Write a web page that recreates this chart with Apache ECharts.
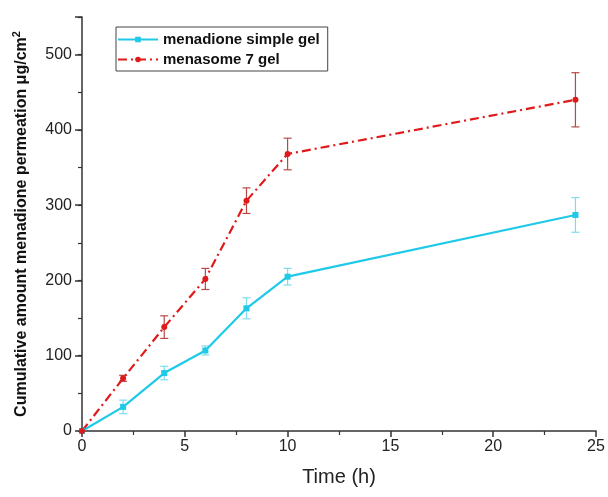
<!DOCTYPE html>
<html><head><meta charset="utf-8">
<script src="https://cdn.jsdelivr.net/npm/echarts@6/dist/echarts.min.js"></script>
<style>html,body{margin:0;padding:0;background:#fff}#c{width:608px;height:497px}</style>
</head><body><div id="c"></div>
<script>
const times = [0, 2, 4, 6, 8, 10, 24];
const simpleGel = [0, 32, 77, 107, 163, 205, 287];
const simpleGelErr = [0, 9, 9, 6, 14, 11, 23];
const menasomeGel = [0, 70, 138, 202, 306, 368, 440];
const menasomeGelErr = [0, 4, 15, 14, 17, 21, 36];
const seriesNames = ['menadione simple gel', 'menasome 7 gel'];

const cyan = '#1fc9e8', red = '#e01a1a';
const font = 'Liberation Sans, Arial, sans-serif';

function pts(vals){ return times.map((t,i)=>[t, vals[i]]); }
function errs(vals, e){ return times.map((t,i)=>[t, vals[i]-e[i], vals[i]+e[i]]).filter((d,i)=>e[i]>0); }

function errRender(color){
  return function(params, api){
    const x = api.value(0), lo = api.value(1), hi = api.value(2);
    const p1 = api.coord([x, lo]), p2 = api.coord([x, hi]);
    const w = 4;
    const st = {stroke: color, lineWidth: 1.2};
    return {type:'group', children:[
      {type:'line', shape:{x1:p1[0],y1:p1[1],x2:p2[0],y2:p2[1]}, style:st},
      {type:'line', shape:{x1:p1[0]-w,y1:p1[1],x2:p1[0]+w,y2:p1[1]}, style:st},
      {type:'line', shape:{x1:p2[0]-w,y1:p2[1],x2:p2[0]+w,y2:p2[1]}, style:st}
    ]};
  };
}

const chart = echarts.init(document.getElementById('c'));
const axisCol = '#333';
chart.setOption({
  animation: false,
  textStyle: {fontFamily: font},
  grid: {left: 82, right: 12, top: 17, bottom: 66},
  legend: {
    orient: 'vertical', left: 116, top: 27,
    data: seriesNames,
    borderColor: '#444', borderWidth: 1, borderRadius: 0,
    padding: [5, 8, 4, 1], itemGap: 5, itemWidth: 40, itemHeight: 7,
    textStyle: {fontSize: 15, fontWeight: 'bold', color: '#111', fontFamily: font}
  },
  xAxis: {
    type: 'value', min: 0, max: 25, interval: 5,
    name: 'Time (h)', nameLocation: 'middle', nameGap: 36,
    nameTextStyle: {fontSize: 20, color: '#222', fontFamily: font},
    axisLine: {lineStyle: {color: axisCol, width: 1.5}},
    axisTick: {length: 6, lineStyle: {color: axisCol, width: 1.5}},
    minorTick: {show: true, splitNumber: 2, length: 4, lineStyle: {color: axisCol, width: 1.2}},
    axisLabel: {fontSize: 16, color: '#222', margin: 8},
    splitLine: {show: false}
  },
  yAxis: [{
    type: 'value', min: 0, max: 550, interval: 50,
    name: 'Cumulative amount menadione permeation μg/cm{sup|2}',
    nameLocation: 'middle', nameRotate: 90, nameGap: 50,
    nameTextStyle: {fontSize: 16, fontWeight: 'bold', color: '#111', fontFamily: font,
      rich: {sup: {fontSize: 11, fontWeight: 'bold', color: '#111', verticalAlign: 'top', padding: [0,0,10,0], fontFamily: font}}},
    axisLine: {show: true, lineStyle: {color: axisCol, width: 1.5}},
    axisTick: {show: true, length: 4, lineStyle: {color: axisCol, width: 1.2}},
    axisLabel: {fontSize: 16, color: '#222', margin: 10,
      formatter: v => (v % 100 === 0 && v <= 500) ? String(v) : ''},
    splitLine: {show: false}
  }, {
    type: 'value', min: 0, max: 550, interval: 100, position: 'left',
    axisLine: {show: false},
    axisTick: {show: true, length: 7, lineStyle: {color: axisCol, width: 1.5}},
    axisLabel: {show: false},
    splitLine: {show: false}
  }],
  series: [
    {type: 'custom', name: 'err1', renderItem: errRender('#7fdcef'), data: errs(simpleGel, simpleGelErr), z: 1, silent: true},
    {type: 'custom', name: 'err2', renderItem: errRender('#b84848'), data: errs(menasomeGel, menasomeGelErr), z: 1, silent: true},
    {type: 'line', name: seriesNames[0], data: pts(simpleGel), symbol: 'rect', symbolSize: 6,
      color: cyan, lineStyle: {color: cyan, width: 2.2}, itemStyle: {color: cyan}, z: 3},
    {type: 'line', name: seriesNames[1], data: pts(menasomeGel), symbol: 'circle', symbolSize: 6,
      color: red, lineStyle: {color: red, width: 2.2, type: [9, 4, 2, 4]}, itemStyle: {color: red}, z: 3}
  ]
});
</script></body></html>
